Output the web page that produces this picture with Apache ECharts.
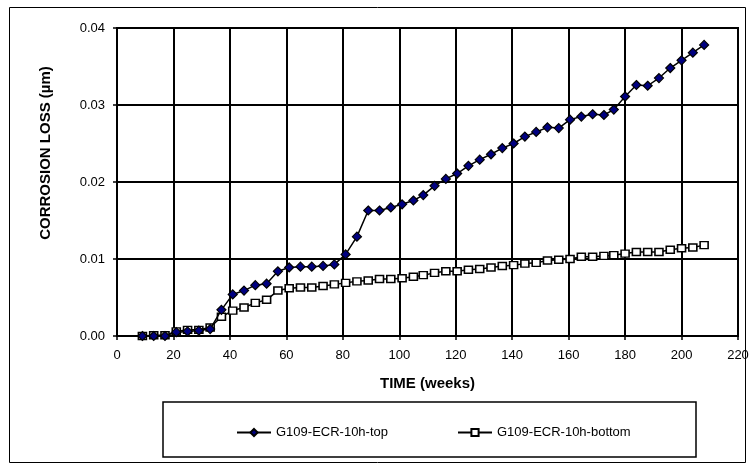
<!DOCTYPE html>
<html>
<head>
<meta charset="utf-8">
<script src="https://cdn.jsdelivr.net/npm/echarts@6/dist/echarts.min.js"></script>
<style>
html,body{margin:0;padding:0;background:#fff;}
#chart{width:752px;height:468px;}
</style>
</head>
<body>
<div id="chart"></div>
<script>
var weeks = [9,13,17,21,25,29,33,37,41,45,49,53,57,61,65,69,73,77,81,85,89,93,97,101,105,108.5,112.5,116.5,120.5,124.5,128.5,132.5,136.5,140.5,144.5,148.5,152.5,156.5,160.5,164.5,168.5,172.5,176,180,184,188,192,196,200,204,208];
var topSeries = [0.0000,0.0000,0.0000,0.0005,0.0006,0.0007,0.0009,0.0034,0.0054,0.0059,0.0066,0.0068,0.0084,0.0089,0.0090,0.0090,0.0091,0.0093,0.0106,0.0129,0.0163,0.0163,0.0167,0.0171,0.0176,0.0183,0.0195,0.0204,0.0211,0.0221,0.0229,0.0236,0.0244,0.0250,0.0259,0.0265,0.0271,0.0270,0.0281,0.0285,0.0288,0.0287,0.0294,0.0311,0.0326,0.0325,0.0335,0.0348,0.0358,0.0368,0.0378];
var bottomSeries = [0.0000,0.0001,0.0001,0.0006,0.0008,0.0008,0.0011,0.0025,0.0033,0.0037,0.0043,0.0047,0.0059,0.0062,0.0063,0.0063,0.0065,0.0067,0.0069,0.0071,0.0072,0.0074,0.0074,0.0075,0.0077,0.0079,0.0082,0.0084,0.0084,0.0086,0.0087,0.0089,0.0091,0.0092,0.0094,0.0095,0.0098,0.0099,0.0100,0.0103,0.0103,0.0104,0.0105,0.0107,0.0109,0.0109,0.0109,0.0112,0.0114,0.0115,0.0118];
var seriesNames = ['G109-ECR-10h-top','G109-ECR-10h-bottom'];
var xTitle = 'TIME (weeks)';
var yTitle = 'CORROSION LOSS (\u00b5m)';

function pairs(xs, ys){ return xs.map(function(x,i){ return [x, ys[i]]; }); }

var FONT = '"Liberation Sans", Arial, sans-serif';
var chart = echarts.init(document.getElementById('chart'), null, {renderer:'canvas'});
chart.setOption({
  animation:false,
  backgroundColor:'#ffffff',
  textStyle:{fontFamily:FONT},
  grid:{left:117, right:14, top:28, bottom:132, show:true, borderColor:'#000', borderWidth:2},
  graphic:[
    {type:'rect', shape:{x:9.5,y:7.5,width:736,height:455}, style:{fill:'none', stroke:'#000', lineWidth:1}, silent:true, z:-1},
    {type:'rect', shape:{x:163,y:402,width:533,height:55}, style:{fill:'#fff', stroke:'#000', lineWidth:1.5}, silent:true, z:0}
  ],
  legend:{
    data:seriesNames, left:231, top:421, itemWidth:34, itemHeight:9, itemGap:69,
    textStyle:{fontFamily:FONT, fontSize:13, color:'#000'}, z:5
  },
  xAxis:{
    type:'value', min:0, max:220, interval:20,
    name:xTitle, nameLocation:'middle', nameGap:40,
    nameTextStyle:{fontFamily:FONT, fontSize:15, fontWeight:'bold', color:'#000'},
    axisLine:{show:true, onZero:false, lineStyle:{color:'#000', width:2}},
    axisTick:{show:true, length:4, lineStyle:{color:'#000', width:1.5}},
    axisLabel:{color:'#000', fontSize:13, margin:13, fontFamily:FONT},
    splitLine:{show:true, lineStyle:{color:'#000', width:2}}
  },
  yAxis:{
    type:'value', min:0, max:0.04, interval:0.01,
    name:yTitle, nameLocation:'middle', nameGap:64,
    nameTextStyle:{fontFamily:FONT, fontSize:15, fontWeight:'bold', color:'#000', padding:[0,0,0,58]},
    axisLine:{show:true, lineStyle:{color:'#000', width:2}},
    axisTick:{show:true, length:4, lineStyle:{color:'#000', width:1.5}},
    axisLabel:{color:'#000', fontSize:13, margin:12, fontFamily:FONT, formatter:function(v){return v.toFixed(2);}},
    splitLine:{show:true, lineStyle:{color:'#000', width:2}}
  },
  series:[
    {name:seriesNames[0], type:'line', data:pairs(weeks, topSeries),
     symbol:'diamond', symbolSize:9,
     lineStyle:{color:'#000', width:1.5},
     itemStyle:{color:'#000080', borderColor:'#000', borderWidth:1.2},
     z:4},
    {name:seriesNames[1], type:'line', data:pairs(weeks, bottomSeries),
     symbol:'rect', symbolSize:[8,7],
     lineStyle:{color:'#000', width:1.5},
     itemStyle:{color:'#fff', borderColor:'#000', borderWidth:1.5},
     z:3}
  ]
});
</script>
</body>
</html>
